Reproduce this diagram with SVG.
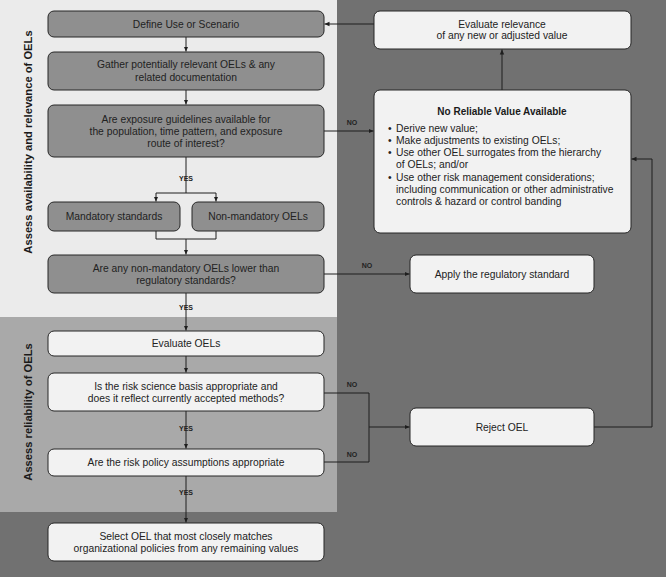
<svg xmlns="http://www.w3.org/2000/svg" width="666" height="577" viewBox="0 0 666 577">
<defs>
<marker id="ah" markerWidth="6" markerHeight="6" refX="5" refY="3" orient="auto" markerUnits="userSpaceOnUse">
<path d="M0,0.8 L5,3 L0,5.2 Z" fill="#1e1e1e"/>
</marker>
<style>
.g{fill:#8f8f8f;stroke:#262626;stroke-width:1}
.w{fill:#f2f2f2;stroke:#262626;stroke-width:1}
.t{font-family:"Liberation Sans",Arial,sans-serif;font-size:10.3px;fill:#222;text-anchor:middle}
.tl{font-family:"Liberation Sans",Arial,sans-serif;font-size:10.3px;fill:#222}
.b{font-family:"Liberation Sans",Arial,sans-serif;font-size:10px;font-weight:bold;fill:#1a1a1a;text-anchor:middle}
.s{font-family:"Liberation Sans",Arial,sans-serif;font-size:11.2px;font-weight:bold;fill:#1a1a1a;text-anchor:middle}
.lb{font-family:"Liberation Sans",Arial,sans-serif;font-size:7px;font-weight:bold;fill:#222;text-anchor:middle}
.c{fill:none;stroke:#1e1e1e;stroke-width:1}
.a{marker-end:url(#ah)}
</style>
</defs>
<rect x="0" y="0" width="666" height="577" fill="#717171"/>
<rect x="0" y="0" width="337" height="317" fill="#ebebeb"/>
<rect x="0" y="317" width="337" height="195" fill="#a9a9a9"/>
<text class="s" transform="translate(32,142) rotate(-90)">Assess availability and relevance of OELs</text>
<text class="s" transform="translate(32,412) rotate(-90)">Assess reliability of OELs</text>

<g id="connectors">
<path class="c a" d="M186,37 V51.5"/>
<path class="c a" d="M186,90 V104.5"/>
<path class="c" d="M186,157 V193 M156,193 H216"/>
<path class="c a" d="M156,193 V201.5"/>
<path class="c a" d="M216,193 V201.5"/>
<path class="c" d="M156,231 V239 H216 V231"/>
<path class="c a" d="M186,239 V254.5"/>
<path class="c a" d="M186,293 V330.5"/>
<path class="c a" d="M186,356 V372.5"/>
<path class="c a" d="M186,411 V448.5"/>
<path class="c a" d="M186,476 V522.5"/>
<path class="c a" d="M324,131 H373.5"/>
<path class="c a" d="M502,90 V49.5"/>
<path class="c a" d="M374,24 H324.5"/>
<path class="c a" d="M324,274 H409.5"/>
<path class="c" d="M324,393 H369 V462 H324"/>
<path class="c a" d="M369,427 H409.5"/>
<path class="c a" d="M594,427 H652 V159 H631.5"/>
<text class="lb" x="352" y="124.5">NO</text>
<text class="lb" x="186" y="180.5">YES</text>
<text class="lb" x="186" y="309.5">YES</text>
<text class="lb" x="367" y="267.5">NO</text>
<text class="lb" x="352" y="386.5">NO</text>
<text class="lb" x="352" y="456.5">NO</text>
<text class="lb" x="186" y="430.5">YES</text>
<text class="lb" x="186" y="494.5">YES</text>
</g>

<g id="define">
<rect class="g" x="48" y="11" width="276" height="26" rx="6"/>
<text class="t" x="186" y="27.5">Define Use or Scenario</text>
</g>
<g id="gather">
<rect class="g" x="48" y="52" width="276" height="38" rx="6"/>
<text class="t" x="186" y="67.5">Gather potentially relevant OELs &amp; any</text>
<text class="t" x="186" y="80.5">related documentation</text>
</g>
<g id="guidelines">
<rect class="g" x="48" y="105" width="276" height="52" rx="6"/>
<text class="t" x="186" y="122.5">Are exposure guidelines available for</text>
<text class="t" x="186" y="134.5">the population, time pattern, and exposure</text>
<text class="t" x="186" y="146.5">route of interest?</text>
</g>
<g id="mandatory">
<rect class="g" x="48" y="202" width="132" height="29" rx="6"/>
<text class="t" x="114" y="219.5">Mandatory standards</text>
</g>
<g id="nonmandatory">
<rect class="g" x="192" y="202" width="132" height="29" rx="6"/>
<text class="t" x="258" y="219.5">Non-mandatory OELs</text>
</g>
<g id="lower">
<rect class="g" x="48" y="255" width="276" height="38" rx="6"/>
<text class="t" x="186" y="271.5">Are any non-mandatory OELs lower than</text>
<text class="t" x="186" y="283.5">regulatory standards?</text>
</g>
<g id="evaluate">
<rect class="w" x="48" y="331" width="276" height="25" rx="6"/>
<text class="t" x="186" y="346.5">Evaluate OELs</text>
</g>
<g id="science">
<rect class="w" x="48" y="373" width="276" height="38" rx="6"/>
<text class="t" x="186" y="389.5">Is the risk science basis appropriate and</text>
<text class="t" x="186" y="402">does it reflect currently accepted methods?</text>
</g>
<g id="policy">
<rect class="w" x="48" y="449" width="276" height="27" rx="6"/>
<text class="t" x="186" y="465.5">Are the risk policy assumptions appropriate</text>
</g>
<g id="select">
<rect class="w" x="48" y="523" width="276" height="38" rx="6"/>
<text class="t" x="186" y="539.5">Select OEL that most closely matches</text>
<text class="t" x="186" y="552">organizational policies from any remaining values</text>
</g>
<g id="relevance">
<rect class="w" x="374" y="11" width="257" height="38" rx="6"/>
<text class="t" x="502" y="27.5">Evaluate relevance</text>
<text class="t" x="502" y="39">of any new or adjusted value</text>
</g>
<g id="noreliable">
<rect class="w" x="374" y="90" width="257" height="143" rx="6"/>
<text class="b" x="502" y="114.5">No Reliable Value Available</text>
<text class="tl" x="388" y="131.5">•</text><text class="tl" x="396" y="131.5">Derive new value;</text>
<text class="tl" x="388" y="143.5">•</text><text class="tl" x="396" y="143.5">Make adjustments to existing OELs;</text>
<text class="tl" x="388" y="156">•</text><text class="tl" x="396" y="156">Use other OEL surrogates from the hierarchy</text>
<text class="tl" x="396" y="168">of OELs; and/or</text>
<text class="tl" x="388" y="180.5">•</text><text class="tl" x="396" y="180.5">Use other risk management considerations;</text>
<text class="tl" x="396" y="192.5">including communication or other administrative</text>
<text class="tl" x="396" y="204.5">controls &amp; hazard or control banding</text>
</g>
<g id="apply">
<rect class="w" x="410" y="255" width="184" height="38" rx="6"/>
<text class="t" x="502" y="277.5">Apply the regulatory standard</text>
</g>
<g id="reject">
<rect class="w" x="410" y="408" width="184" height="38" rx="6"/>
<text class="t" x="502" y="430.5">Reject OEL</text>
</g>
</svg>
